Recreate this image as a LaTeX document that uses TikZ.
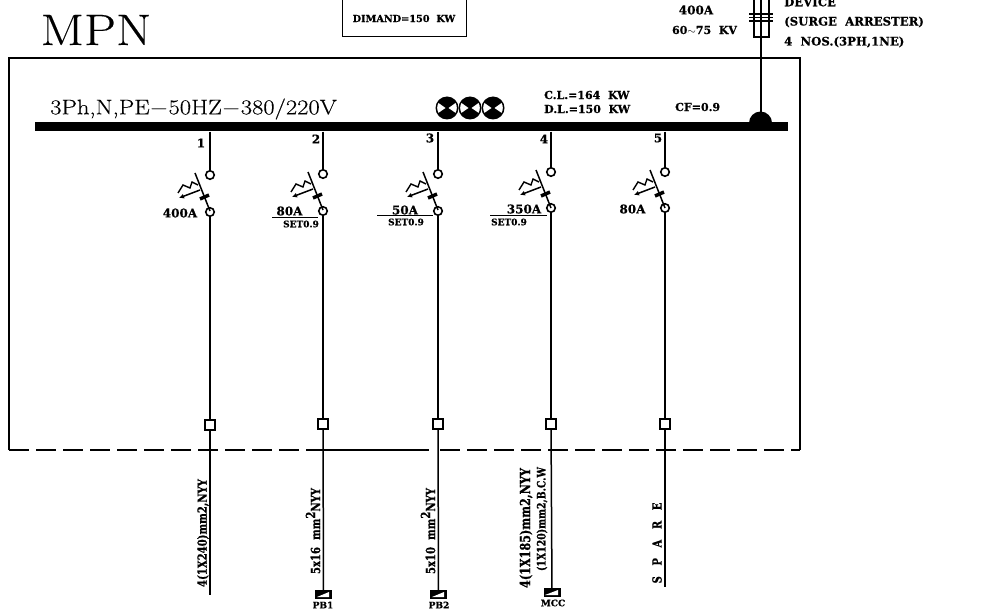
\documentclass[tikz,border=0pt]{standalone}
\usepackage{fontspec}
\usetikzlibrary{positioning, arrows.meta}
\newfontfamily\cadfont{DejaVu Serif}[BoldFeatures={FakeBold=0.6}]
\newfontfamily\cablefont{DejaVu Serif}[FakeStretch=0.8, BoldFeatures={FakeBold=0.6}]
\newfontfamily\thinfont{Latin Modern Roman}[FakeBold=0.25]

\begin{document}
\begin{tikzpicture}[x=1pt, y=-1pt, on grid, >=Latex,
        contact/.style = {draw, circle, fill=white, line width=1.6pt, minimum size=8.5pt, inner sep=0pt},
        terminal/.style = {draw, rectangle, fill=white, line width=1.2pt, minimum size=10pt, inner sep=0pt},
        bus/.style = {fill=black, rectangle, minimum width=753pt, minimum height=9pt, inner sep=0pt},
        load/.style = {fill=black, rectangle, minimum width=17pt, minimum height=9pt, inner sep=0pt},
        lab/.style = {inner sep=0pt, font=\cadfont\bfseries\fontsize{11.7}{13}\selectfont},
        small/.style = {inner sep=0pt, font=\cadfont\bfseries\fontsize{11}{13}\selectfont},
        amps/.style = {inner sep=0pt, font=\cadfont\bfseries\fontsize{12}{14}\selectfont},
        tiny/.style = {inner sep=0pt, font=\cadfont\bfseries\fontsize{9}{10}\selectfont},
        cable/.style = {inner sep=0pt, rotate=90, font=\cablefont\bfseries\fontsize{12.6}{14}\selectfont},
        breaker/.pic = {
            \draw [line width=1.5pt] (-15,-2) -- (0,36);
            \draw [line width=3.5pt] (-10,24) -- (-1,20);
            \draw [line width=1.5pt, -{Latex[length=5pt,width=5pt]}] (-10,15) -- (-31,23);
            \draw [line width=1.4pt] (-32,18) -- (-27,10) -- (-20,13) -- (-18,7) -- (-12,10);
        },
        lamp/.pic = {
            \fill (0,0) circle (11.5);
            \fill [white] (-1.5,0) -- (-8.5,-5) arc (210:150:9.8) -- cycle;
            \fill [white] (1.5,0) -- (8.5,-5) arc (-30:30:9.8) -- cycle;
        },
        ]
        \useasboundingbox (0,0) rectangle (987,612);

        % panel and busbar
        \draw [line width=1.2pt] (9,450) -- (9,58) -- (800,58) -- (800,450);
        \draw [line width=1.2pt, dash pattern=on 20pt off 7pt] (9,450) -- (318,450);
        \draw [line width=1.2pt] (318,450) -- (429,450);
        \draw [line width=1.2pt, dash pattern=on 20pt off 7pt] (440,450) -- (800,450);
        \node [bus] (bus) at (411.5,127) {};

        \node [inner sep=0pt, xscale=1.16, font=\thinfont\fontsize{44}{44}\selectfont] (title) at (96,30) {MPN};
        \node [draw, line width=1pt, minimum width=124pt, minimum height=37pt, inner sep=0pt, font=\cadfont\bfseries\fontsize{9.7}{11}\selectfont] (demand) at (404,18.5) {DIMAND=150~~KW};
        \node [inner sep=0pt, anchor=west, xscale=1.17, font=\thinfont\fontsize{21}{21}\selectfont] (supply) at (50,109) {3Ph,N,PE$-$50HZ$-$380/220V};
        \node [small, anchor=west] (cl) at (544,95) {C.L.=164~~KW};
        \node [small, anchor=west] (dl) at (544,109) {D.L.=150~~KW};
        \node [small, anchor=west] (cf) at (675,107) {CF=0.9};

        \pic at (447,108) {lamp};
        \pic at (470,108) {lamp};
        \pic at (493,108) {lamp};

        % surge arrester
        \coordinate (arrtop) at (761,-5);
        \draw [line width=1.2pt] (arrtop) -- (bus.north -| arrtop);
        \fill (749,123) arc (180:360:11.5) -- cycle;
        \draw [line width=1.1pt] (754,-5) rectangle (769,37);
        \draw [line width=1.1pt] (749,14) -- (773,14) (749,17.5) -- (773,17.5) (749,21) -- (773,21);
        \node [amps] (arramp) at (696,10) {400A};
        \node [small] (arrkv) at (704.5,30) {60$\sim$75~~KV};
        \node [lab, anchor=west] (arr1) at (784,2) {DEVICE};
        \node [lab, anchor=west] (arr2) at (784,22) {(SURGE~~ARRESTER)};
        \node [lab, anchor=west] (arr3) at (784,42) {4~~NOS.(3PH,1NE)};

        % feeders
        \node [contact] (top1) at (210,175) {};
        \node [contact] (top2) at (323,174) {};
        \node [contact] (top3) at (438,174) {};
        \node [contact] (top4) at (551,172) {};
        \node [contact] (top5) at (665,172) {};
        \node [contact, below=37pt of top1] (bot1) {};
        \node [contact, below=37pt of top2] (bot2) {};
        \node [contact, below=37pt of top3] (bot3) {};
        \node [contact, below=36pt of top4] (bot4) {};
        \node [contact, below=36pt of top5] (bot5) {};
        \node [terminal, below=213pt of bot1] (term1) {};
        \node [terminal, below=213pt of bot2] (term2) {};
        \node [terminal, below=213pt of bot3] (term3) {};
        \node [terminal, below=216pt of bot4] (term4) {};
        \node [terminal, below=216pt of bot5] (term5) {};
        \coordinate [below=170pt of term1] (end1);
        \coordinate [below=163pt of term5] (end5);
        \node [load] (pb1) at (323.5,594.5) {};
        \node [load] (pb2) at (438.5,594.5) {};
        \node [load] (mcc) at (552,592.5) {};
        \fill [white] (317,597) -- (329,592) -- (329,597) -- cycle;
        \fill [white] (432,597) -- (444,592) -- (444,597) -- cycle;
        \fill [white] (545,595) -- (558,590) -- (558,595) -- cycle;
        \node [tiny] (pb1txt) at (323,605) {PB1};
        \node [tiny] (pb2txt) at (439,605) {PB2};
        \node [tiny] (mcctxt) at (553,603) {MCC};

        \draw [line width=2pt] (bus.south -| top1) -- (top1);
        \draw [line width=2pt] (bus.south -| top2) -- (top2);
        \draw [line width=2pt] (bus.south -| top3) -- (top3);
        \draw [line width=2pt] (bus.south -| top4) -- (top4);
        \draw [line width=2pt] (bus.south -| top5) -- (top5);
        \draw [line width=1.5pt] (bot1) -- (term1);
        \draw [line width=1.5pt] (bot2) -- (term2);
        \draw [line width=1.5pt] (bot3) -- (term3);
        \draw [line width=1.5pt] (bot4) -- (term4);
        \draw [line width=1.5pt] (bot5) -- (term5);
        \draw [line width=1.5pt] (term1) -- (end1);
        \draw [line width=1.5pt] (term2) -- (pb1);
        \draw [line width=1.5pt] (term3) -- (pb2);
        \draw [line width=1.5pt] (term4) -- (mcc);
        \draw [line width=1.5pt] (term5) -- (end5);
        \draw [line width=2pt] (210,315) -- (term1);
        \draw [line width=2pt] (323,315) -- (term2);
        \draw [line width=2pt] (438,315) -- (term3);
        \draw [line width=2pt] (551,315) -- (term4);
        \draw [line width=2pt] (665,315) -- (term5);

        \pic at (top1) {breaker};
        \pic at (top2) {breaker};
        \pic at (top3) {breaker};
        \pic at (top4) {breaker};
        \pic at (top5) {breaker};

        \node [amps] (num1) at (201,143) {1};
        \node [amps] (num2) at (316,139) {2};
        \node [amps] (num3) at (430,138) {3};
        \node [amps] (num4) at (544,139) {4};
        \node [amps] (num5) at (658,138) {5};

        \node [amps] (amp1) at (180,213) {400A};
        \node [amps] (amp2) at (289.5,211) {80A};
        \node [amps] (amp3) at (405,210) {50A};
        \node [amps] (amp4) at (524,209) {350A};
        \node [amps] (amp5) at (632.5,209) {80A};
        \draw [line width=1pt] (272,218) -- (318,218);
        \draw [line width=1pt] (377,216) -- (433,216);
        \draw [line width=1pt] (490,216) -- (547,216);
        \node [tiny] (set2) at (301,224) {SET0.9};
        \node [tiny] (set3) at (406,222) {SET0.9};
        \node [tiny] (set4) at (509,222) {SET0.9};

        % cable labels
        \node [cable] (cab1) at (203,533) {4(1X240)mm2,NYY};
        \node [cable] (cab2) at (313,531) {5x16~~mm\raisebox{5pt}{2}NYY};
        \node [cable] (cab3) at (428,531) {5x10~~mm\raisebox{5pt}{2}NYY};
        \node [cable, font=\cablefont\bfseries\fontsize{14}{16}\selectfont] (cab4a) at (526,528) {4(1X185)mm2,NYY};
        \node [cable, font=\cablefont\bfseries\fontsize{11.7}{13}\selectfont] (cab4b) at (542,519) {(1X120)mm2,B.C.W};
        \node [cable] (cab5) at (657,543) {S~~~P~~~A~~~R~~~E};
\end{tikzpicture}
\end{document}
